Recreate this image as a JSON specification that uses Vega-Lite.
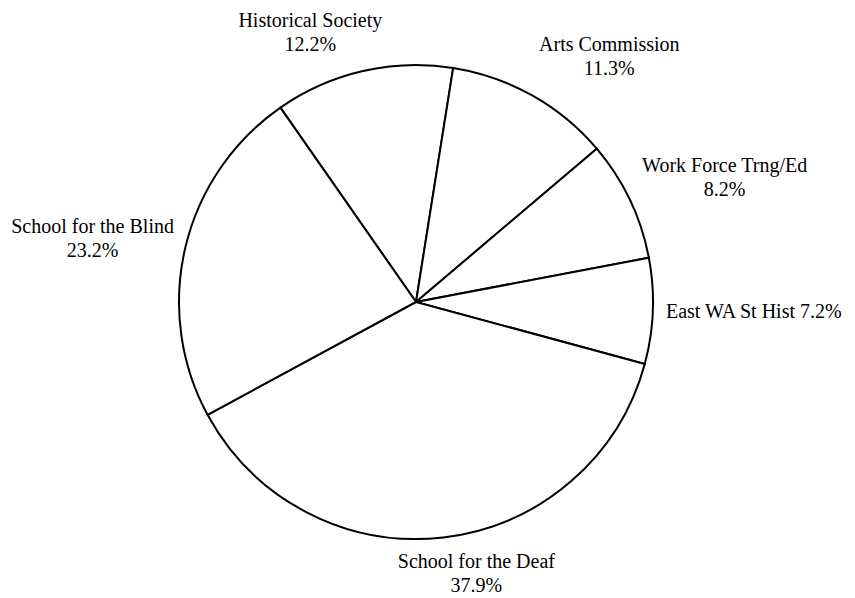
{
  "$schema": "https://vega.github.io/schema/vega-lite/v6.json",
  "width": 832,
  "height": 592,
  "autosize": "none",
  "padding": {"left": 0, "top": 6, "right": 23, "bottom": 0},
  "background": "white",
  "view": {"stroke": null},
  "data": {
    "values": [
      {"order": 1, "name": "Historical Society", "pct": 12.2, "label": "Historical Society\n12.2%"},
      {"order": 2, "name": "Arts Commission", "pct": 11.3, "label": "Arts Commission\n11.3%"},
      {"order": 3, "name": "Work Force Trng/Ed", "pct": 8.2, "label": "Work Force Trng/Ed\n8.2%"},
      {"order": 4, "name": "East WA St Hist", "pct": 7.2, "label": "East WA St Hist 7.2%"},
      {"order": 5, "name": "School for the Deaf", "pct": 37.9, "label": "School for the Deaf\n37.9%"},
      {"order": 6, "name": "School for the Blind", "pct": 23.2, "label": "School for the Blind\n23.2%"}
    ]
  },
  "transform": [
    {"stack": "pct", "groupby": [], "sort": [{"field": "order", "order": "ascending"}], "as": ["p0", "p1"]},
    {"calculate": "(datum.p0 + datum.p1) / 2", "as": "pmid"}
  ],
  "layer": [
    {
      "mark": {"type": "arc", "outerRadius": 237, "fill": "white", "stroke": "black", "strokeWidth": 2},
      "encoding": {
        "theta": {"field": "p0", "type": "quantitative", "stack": null, "scale": {"domain": [0, 100], "range": [-0.609, 5.674]}},
        "theta2": {"field": "p1"}
      }
    },
    {
      "transform": [{"filter": "datum.name === 'Historical Society'"}],
      "mark": {"type": "text", "radius": 280, "dx": -43, "dy": -2, "fontSize": 20, "font": "Liberation Serif", "lineBreak": "\n", "align": "center", "baseline": "alphabetic", "lineHeight": 24, "color": "black"},
      "encoding": {
        "theta": {"field": "pmid", "type": "quantitative", "stack": null, "scale": {"domain": [0, 100], "range": [-0.609, 5.674]}},
        "text": {"field": "label"}
      }
    },
    {
      "transform": [{"filter": "datum.name === 'Arts Commission'"}],
      "mark": {"type": "text", "radius": 280, "dx": 56, "dy": -7, "fontSize": 20, "font": "Liberation Serif", "lineBreak": "\n", "align": "center", "baseline": "alphabetic", "lineHeight": 24, "color": "black"},
      "encoding": {
        "theta": {"field": "pmid", "type": "quantitative", "stack": null, "scale": {"domain": [0, 100], "range": [-0.609, 5.674]}},
        "text": {"field": "label"}
      }
    },
    {
      "transform": [{"filter": "datum.name === 'Work Force Trng/Ed'"}],
      "mark": {"type": "text", "radius": 280, "dx": 56, "dy": -9, "fontSize": 20, "font": "Liberation Serif", "lineBreak": "\n", "align": "center", "baseline": "alphabetic", "lineHeight": 24, "color": "black"},
      "encoding": {
        "theta": {"field": "pmid", "type": "quantitative", "stack": null, "scale": {"domain": [0, 100], "range": [-0.609, 5.674]}},
        "text": {"field": "label"}
      }
    },
    {
      "transform": [{"filter": "datum.name === 'East WA St Hist'"}],
      "mark": {"type": "text", "radius": 280, "dx": 58, "dy": 5, "fontSize": 20, "font": "Liberation Serif", "lineBreak": "\n", "align": "center", "baseline": "alphabetic", "lineHeight": 24, "color": "black"},
      "encoding": {
        "theta": {"field": "pmid", "type": "quantitative", "stack": null, "scale": {"domain": [0, 100], "range": [-0.609, 5.674]}},
        "text": {"field": "label"}
      }
    },
    {
      "transform": [{"filter": "datum.name === 'School for the Deaf'"}],
      "mark": {"type": "text", "radius": 280, "dx": 28, "dy": -12, "fontSize": 20, "font": "Liberation Serif", "lineBreak": "\n", "align": "center", "baseline": "alphabetic", "lineHeight": 24, "color": "black"},
      "encoding": {
        "theta": {"field": "pmid", "type": "quantitative", "stack": null, "scale": {"domain": [0, 100], "range": [-0.609, 5.674]}},
        "text": {"field": "label"}
      }
    },
    {
      "transform": [{"filter": "datum.name === 'School for the Blind'"}],
      "mark": {"type": "text", "radius": 280, "dx": -51, "dy": -4, "fontSize": 20, "font": "Liberation Serif", "lineBreak": "\n", "align": "center", "baseline": "alphabetic", "lineHeight": 24, "color": "black"},
      "encoding": {
        "theta": {"field": "pmid", "type": "quantitative", "stack": null, "scale": {"domain": [0, 100], "range": [-0.609, 5.674]}},
        "text": {"field": "label"}
      }
    }
  ]
}
